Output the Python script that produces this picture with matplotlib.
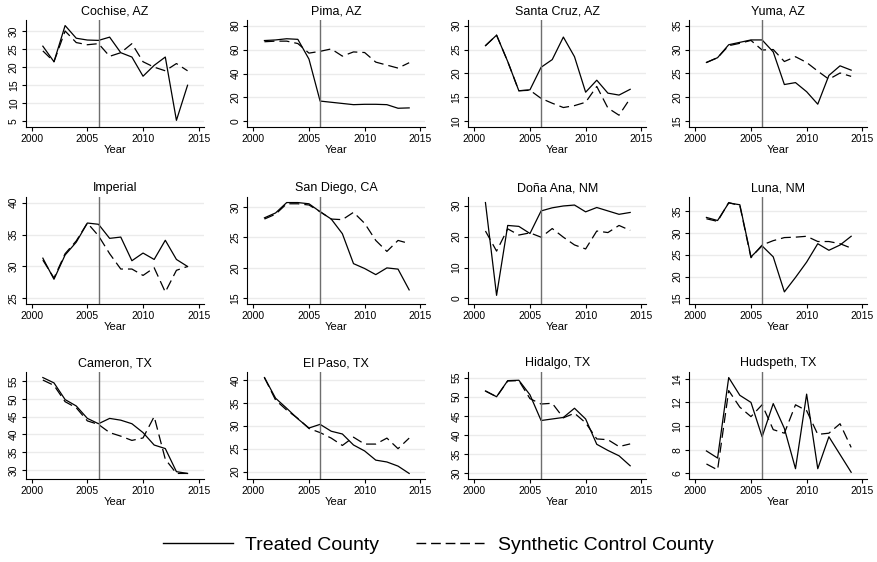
import matplotlib.pyplot as plt
import numpy as np
from matplotlib.lines import Line2D

plt.rcParams['font.family'] = ['Liberation Sans', 'DejaVu Sans']

years = np.arange(2001, 2015)
treat_year = 2006

cochise_treated = [25.8, 21.5, 31.5, 28.0, 27.5, 27.4, 28.3, 24.0, 22.8, 17.5, 20.5, 22.8, 5.3, 15.0]
cochise_synth = [24.5, 21.5, 30.0, 26.8, 26.2, 26.5, 23.0, 24.0, 26.5, 21.5, 20.0, 19.0, 21.0, 19.0]
pima_treated = [67.5, 68.0, 69.0, 68.5, 52.0, 17.0, 16.0, 15.0, 14.0, 14.3, 14.3, 14.0, 11.0, 11.3]
pima_synth = [66.5, 67.0, 67.0, 65.0, 57.0, 58.5, 60.5, 54.5, 58.0, 57.5, 49.5, 47.0, 44.5, 49.0]
santacruz_treated = [25.8, 28.0, 22.5, 16.4, 16.6, 21.3, 22.9, 27.6, 23.5, 16.1, 18.6, 15.9, 15.5, 16.7]
santacruz_synth = [25.8, 28.0, 22.5, 16.4, 16.5, 14.8, 13.8, 12.9, 13.3, 14.0, 17.3, 12.8, 11.3, 14.8]
yuma_treated = [27.3, 28.3, 31.0, 31.5, 32.0, 32.0, 29.5, 22.7, 23.1, 21.2, 18.6, 24.6, 26.6, 25.7]
yuma_synth = [27.3, 28.3, 30.8, 31.3, 31.9, 29.9, 30.0, 27.5, 28.5, 27.3, 25.5, 23.8, 25.1, 24.4]
imperial_treated = [31.3, 28.0, 31.8, 33.8, 36.8, 36.6, 34.4, 34.6, 30.9, 32.1, 31.1, 34.1, 31.1, 30.0]
imperial_synth = [31.0, 28.2, 32.0, 34.0, 36.8, 34.8, 32.0, 29.6, 29.6, 28.6, 29.8, 26.0, 29.4, 30.0]
sandiego_treated = [28.2, 29.0, 30.7, 30.7, 30.5, 29.2, 28.0, 25.6, 20.7, 19.9, 18.9, 20.0, 19.8, 16.4]
sandiego_synth = [28.0, 28.8, 30.5, 30.5, 30.3, 29.2, 28.0, 27.9, 29.1, 27.3, 24.5, 22.7, 24.5, 24.0]
donaana_treated = [31.0, 1.0, 23.6, 23.3, 21.0, 28.3, 29.3, 29.9, 30.2, 28.0, 29.4, 28.3, 27.2, 27.8]
donaana_synth = [21.8, 15.3, 22.5, 20.5, 21.2, 19.8, 22.6, 19.8, 17.3, 16.0, 21.8, 21.3, 23.6, 22.0]
luna_treated = [33.5, 32.8, 36.8, 36.4, 24.5, 27.0, 24.5, 16.5, 19.8, 23.3, 27.5, 26.0, 27.2, 29.2]
luna_synth = [33.2, 32.6, 36.9, 36.2, 24.3, 27.2, 28.2, 28.9, 29.0, 29.2, 28.0, 28.0, 27.5, 26.5]
cameron_treated = [56.0, 54.5, 49.8, 48.0, 44.5, 43.0, 44.5, 44.0, 43.0, 40.5, 37.0, 36.0, 29.5, 29.0]
cameron_synth = [55.3, 53.8, 49.2, 47.5, 43.8, 42.8, 40.5, 39.5, 38.3, 39.0, 45.0, 33.0, 29.0, 29.0]
elpaso_treated = [40.5, 36.0, 33.8, 31.5, 29.5, 30.3, 28.8, 28.2, 25.8, 24.5, 22.5, 22.1, 21.2, 19.6]
elpaso_synth = [40.5, 35.6, 33.4, 31.6, 29.4, 28.5, 27.3, 25.7, 27.5, 26.0, 26.0, 27.3, 25.0, 27.3]
hidalgo_treated = [51.5, 50.0, 54.2, 54.3, 50.5, 43.8, 44.2, 44.6, 47.0, 44.2, 37.6, 36.0, 34.6, 32.0]
hidalgo_synth = [51.5, 50.0, 54.1, 54.2, 49.5, 48.1, 48.3, 44.5, 45.7, 43.2, 39.0, 38.8, 37.0, 37.7]
hudspeth_treated = [7.9, 7.3, 14.1, 12.6, 12.0, 9.1, 11.9, 9.8, 6.4, 12.7, 6.4, 9.1, 7.6, 6.1]
hudspeth_synth = [6.8, 6.3, 13.0, 11.6, 10.8, 11.8, 9.7, 9.4, 11.8, 11.3, 9.3, 9.4, 10.2, 8.2]

titles = ["Cochise, AZ", "Pima, AZ", "Santa Cruz, AZ", "Yuma, AZ",
          "Imperial", "San Diego, CA", "Doña Ana, NM", "Luna, NM",
          "Cameron, TX", "El Paso, TX", "Hidalgo, TX", "Hudspeth, TX"]
treated = [cochise_treated, pima_treated, santacruz_treated, yuma_treated,
           imperial_treated, sandiego_treated, donaana_treated, luna_treated,
           cameron_treated, elpaso_treated, hidalgo_treated, hudspeth_treated]
synthetic = [cochise_synth, pima_synth, santacruz_synth, yuma_synth,
             imperial_synth, sandiego_synth, donaana_synth, luna_synth,
             cameron_synth, elpaso_synth, hidalgo_synth, hudspeth_synth]
yticks = [[5, 10, 15, 20, 25, 30], [0, 20, 40, 60, 80], [10, 15, 20, 25, 30], [15, 20, 25, 30, 35],
          [25, 30, 35, 40], [15, 20, 25, 30], [0, 10, 20, 30], [15, 20, 25, 30, 35],
          [30, 35, 40, 45, 50, 55], [20, 25, 30, 35, 40], [30, 35, 40, 45, 50, 55], [6, 8, 10, 12, 14]]
xticks = [2000, 2005, 2010, 2015]

W, H = 877, 562
fig = plt.figure(figsize=(W / 100, H / 100), dpi=100)

col_left = [25.7, 247.3, 468.3, 689.3]
row_top = [20, 197, 372]
ax_w, ax_h = 178, 107

for i in range(12):
    r, c = divmod(i, 4)
    ax = fig.add_axes([col_left[c] / W, 1 - (row_top[r] + ax_h) / H, ax_w / W, ax_h / H])
    ax.set_axisbelow(True)
    ax.yaxis.grid(True, color='#ebebeb', lw=1)
    ax.plot(years, treated[i], color='black', lw=0.9)
    ax.plot(years, synthetic[i], color='black', lw=0.9, dashes=(8, 4))
    ax.axvline(treat_year, color='#6e6e6e', lw=1)

    # Stata-like padding around data/tick range
    lo = min(yticks[i][0], min(treated[i]), min(synthetic[i]))
    hi = max(yticks[i][-1], max(treated[i]), max(synthetic[i]))
    pad = 0.058 * (hi - lo)
    ax.set_ylim(lo - pad, hi + pad)
    ax.set_xlim(1999.46, 2015.45)
    ax.set_yticks(yticks[i])
    ax.set_xticks(xticks)
    plt.setp(ax.get_yticklabels(), rotation=90, va='center')
    ax.tick_params(labelsize=7.5, length=3, width=0.8, pad=2)

    for s in ['top', 'right']:
        ax.spines[s].set_visible(False)
    for s in ['left', 'bottom']:
        ax.spines[s].set_linewidth(0.8)

    ax.set_title(titles[i], fontsize=9, pad=4)
    ax.set_xlabel("Year", fontsize=8, labelpad=1)

handles = [Line2D([], [], color='black', lw=1),
           Line2D([], [], color='black', lw=1, dashes=(7, 3.5))]
fig.legend(handles, ["Treated County", "Synthetic Control County"],
           loc='center', bbox_to_anchor=(0.5, 1 - 545 / H), ncol=2, frameon=False,
           fontsize=14, handlelength=3.6, handletextpad=0.6, columnspacing=1.9)

fig.savefig("out.png", dpi=100)
